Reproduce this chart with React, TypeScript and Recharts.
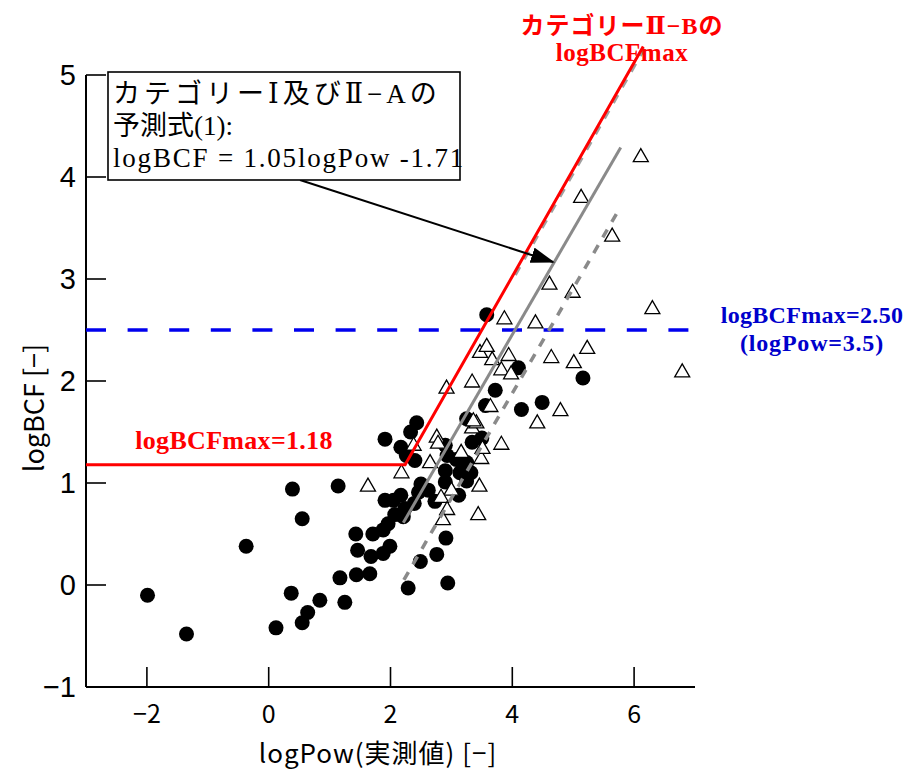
import React from 'react';
import { ScatterChart, Scatter, XAxis, YAxis, ReferenceLine } from 'recharts';

// measured logPow / logBCF pairs
const measuredCircles: [number, number][] = [
  [-1.99, -0.10], [-1.35, -0.48], [-0.37, 0.38], [0.12, -0.42], [0.39, 0.94], [0.55, 0.65],
  [0.37, -0.08], [0.55, -0.37], [0.64, -0.27], [0.84, -0.15], [1.14, 0.97], [1.25, -0.17],
  [1.17, 0.07], [1.43, 0.50], [1.46, 0.34], [1.44, 0.10], [1.66, 0.11], [1.68, 0.28],
  [1.71, 0.50], [1.91, 1.43], [1.91, 0.83], [1.88, 0.54], [1.88, 0.31], [1.99, 0.38],
  [1.96, 0.60], [2.05, 0.83], [2.07, 0.69], [2.17, 0.88], [2.21, 0.67], [2.24, 0.75],
  [2.39, 0.80], [2.46, 0.91], [2.50, 0.99], [2.62, 0.93], [2.73, 0.82], [2.43, 1.59],
  [2.33, 1.50], [2.17, 1.35], [2.26, 1.27], [2.40, 1.22], [2.90, 1.37], [2.93, 1.27],
  [3.08, 1.23], [3.25, 1.20], [2.90, 1.12], [3.14, 1.10], [3.32, 1.10], [3.25, 1.02],
  [2.90, 1.01], [3.12, 0.88], [3.50, 1.44], [3.34, 1.40], [3.25, 1.63], [3.56, 1.76],
  [3.72, 1.91], [3.58, 2.65], [4.10, 2.13], [4.15, 1.72], [4.49, 1.79], [5.16, 2.03],
  [2.91, 0.46], [2.76, 0.30], [2.49, 0.23], [2.29, -0.03], [2.94, 0.02],
];

const measuredTriangles: [number, number][] = [
  [1.63, 0.97], [2.18, 1.10], [2.38, 1.37], [2.76, 1.45], [2.78, 1.39], [2.65, 1.20],
  [2.92, 1.93], [3.16, 1.30], [3.00, 0.93], [2.83, 0.86], [2.93, 0.74], [2.86, 0.64],
  [3.46, 0.97], [3.49, 1.24], [3.51, 1.34], [3.34, 1.54], [3.41, 1.59], [3.36, 1.61],
  [3.44, 0.69], [3.64, 1.75], [3.34, 1.99], [3.47, 2.28], [3.58, 2.34], [3.67, 2.21],
  [3.94, 2.25], [3.82, 2.11], [3.98, 2.07], [3.82, 1.38], [3.87, 2.61], [4.38, 2.57],
  [4.41, 1.59], [4.61, 2.95], [4.64, 2.23], [4.79, 1.71], [4.99, 2.87], [5.01, 2.18],
  [5.23, 2.32], [5.13, 3.80], [5.64, 3.42], [6.11, 4.20], [6.30, 2.71], [6.79, 2.09],
];

const categoryIIBMaxLine: [number, number][] = [[-3, 1.18], [2.24, 1.18], [6.15, 5.28]];
const categoryIIBShadowLine: [number, number][] = [[4.05, 3.04], [6.17, 5.26]];
const predictionLine: [number, number][] = [[2.21, 0.61], [5.78, 4.29]];
const lowerLine: [number, number][] = [[2.22, 0.05], [5.78, 3.71]];
const maxBCFLine: [number, number][] = [[-3, 2.5], [7, 2.5]];

const xTicks = [-2, 0, 2, 4, 6];
const yTicks = [-1, 0, 1, 2, 3, 4, 5];
const xDomain = [-3, 7];
const yDomain = [-1, 5.3];

const toXY = (arr: [number, number][]) => arr.map(([x, y]) => ({ x, y }));
const fmt = (v: number) => (v < 0 ? '\u2212' + Math.abs(v) : String(v));

const W = 905;
const H = 763;

const YTick = (props: any) => {
  const { x, y, payload } = props;
  return (
    <g>
      <line x1={x} y1={y} x2={x + 20} y2={y} stroke="#000" strokeWidth={1.6} />
      <text x={x - 10} y={y} textAnchor="end" dominantBaseline="central"
        fontFamily="'Liberation Sans', Arial, sans-serif" fontSize={29} fill="#000">
        {fmt(payload.value)}
      </text>
    </g>
  );
};

const XTick = (props: any) => {
  const { x, y, payload } = props;
  return (
    <g>
      <line x1={x} y1={y} x2={x} y2={y - 20} stroke="#000" strokeWidth={1.6} />
      <text x={x} y={y + 25} textAnchor="middle" dominantBaseline="central"
        fontFamily="'Noto Sans CJK JP', sans-serif" fontSize={25} fill="#000">
        {fmt(payload.value)}
      </text>
    </g>
  );
};

const CircleShape = (p: any) => <circle cx={p.cx} cy={p.cy} r={7.5} fill="#000" />;
const TriangleShape = (p: any) => (
  <polygon
    points={`${p.cx},${p.cy - 8} ${p.cx - 7.5},${p.cy + 5} ${p.cx + 7.5},${p.cy + 5}`}
    fill="#fff" stroke="#000" strokeWidth={1.3} strokeLinejoin="miter"
  />
);
const NoShape = () => <g />;

const serif = "'Liberation Serif', 'DejaVu Serif', 'Noto Sans CJK JP', serif";

export default function App() {
  return (
    <div style={{ position: 'relative', width: W, height: H }}>
      <ScatterChart width={W} height={H} margin={{ top: 36.4, right: 218, bottom: 24, left: 18 }}>
        <XAxis type="number" dataKey="x" domain={xDomain} ticks={xTicks} allowDataOverflow
          height={60} tickSize={0} tickMargin={0} tickLine={false}
          axisLine={{ stroke: '#000', strokeWidth: 2 }} tick={<XTick />} interval={0} />
        <YAxis type="number" dataKey="y" domain={yDomain} ticks={yTicks} allowDataOverflow
          width={60} tickSize={0} tickMargin={0} tickLine={false} axisLine={false}
          tick={<YTick />} interval={0} />
        <ReferenceLine segment={[{ x: -3, y: -1 }, { x: -3, y: 5 }]} stroke="#000" strokeWidth={2} ifOverflow="visible" />
        <Scatter data={toXY(measuredCircles)} shape={CircleShape} isAnimationActive={false} />
        <Scatter data={toXY(measuredTriangles)} shape={TriangleShape} isAnimationActive={false} />
        <Scatter data={toXY(maxBCFLine)} shape={NoShape} isAnimationActive={false}
          line={{ stroke: '#0000ee', strokeWidth: 3.5, strokeDasharray: '20 21.6' }} />
        <Scatter data={toXY(lowerLine)} shape={NoShape} isAnimationActive={false}
          line={{ stroke: '#8a8a8a', strokeWidth: 3.5, strokeDasharray: '9 9' }} />
        <Scatter data={toXY(predictionLine)} shape={NoShape} isAnimationActive={false}
          line={{ stroke: '#8a8a8a', strokeWidth: 3 }} />
        <Scatter data={toXY(categoryIIBShadowLine)} shape={NoShape} isAnimationActive={false}
          line={{ stroke: '#a0a0a0', strokeWidth: 3, strokeDasharray: '9 9' }} />
        <Scatter data={toXY(categoryIIBMaxLine)} shape={NoShape} isAnimationActive={false}
          line={{ stroke: '#ff0000', strokeWidth: 3 }} />
      </ScatterChart>
      <svg width={W} height={H} style={{ position: 'absolute', left: 0, top: 0, pointerEvents: 'none' }}>
        <defs>
          <marker id="arrowHead" markerWidth="24" markerHeight="16" refX="22" refY="8" orient="auto" markerUnits="userSpaceOnUse">
            <path d="M0,0 L24,8 L0,16 Z" fill="#000" />
          </marker>
        </defs>
        <line x1={292} y1={172} x2={545} y2={254} stroke="#000" strokeWidth={2} markerEnd="url(#arrowHead)" />
        <rect x={100} y={64} width={352} height={108} fill="#fff" stroke="#000" strokeWidth={1.6} />
        <g fontFamily={serif} fontSize={27} fill="#000">
          <text x={105} y={86} dominantBaseline="central" letterSpacing={4}>カテゴリーⅠ及びⅡ−Aの</text>
          <text x={105} y={118} dominantBaseline="central">予測式(1):</text>
          <text x={105} y={150} dominantBaseline="central" letterSpacing={1.8}>logBCF = 1.05logPow -1.71</text>
        </g>
        <g fontFamily={serif} fontWeight="bold" fill="#ff0000" textAnchor="middle">
          <text x={614} y={18} fontSize={24} dominantBaseline="central" letterSpacing={1}>カテゴリーⅡ−Bの</text>
          <text x={614} y={44} fontSize={25} dominantBaseline="central" letterSpacing={0.5}>logBCFmax</text>
          <text x={226} y={432} fontSize={26} dominantBaseline="central" letterSpacing={0.3}>logBCFmax=1.18</text>
        </g>
        <g fontFamily={serif} fontSize={24} fontWeight="bold" fill="#0000cc" textAnchor="middle">
          <text x={804} y={307} dominantBaseline="central" letterSpacing={0.3}>logBCFmax=2.50</text>
          <text x={804} y={335} dominantBaseline="central" letterSpacing={0.8}>(logPow=3.5)</text>
        </g>
        <text x={370} y={743} textAnchor="middle" dominantBaseline="central" letterSpacing={1}
          fontFamily="'Noto Sans CJK JP', sans-serif" fontSize={26} fill="#000">logPow(実測値) [−]</text>
        <text x={24} y={400} textAnchor="middle" dominantBaseline="central"
          transform="rotate(-90 24 400)"
          fontFamily="'Noto Sans CJK JP', sans-serif" fontSize={27} fill="#000">logBCF [−]</text>
      </svg>
    </div>
  );
}
